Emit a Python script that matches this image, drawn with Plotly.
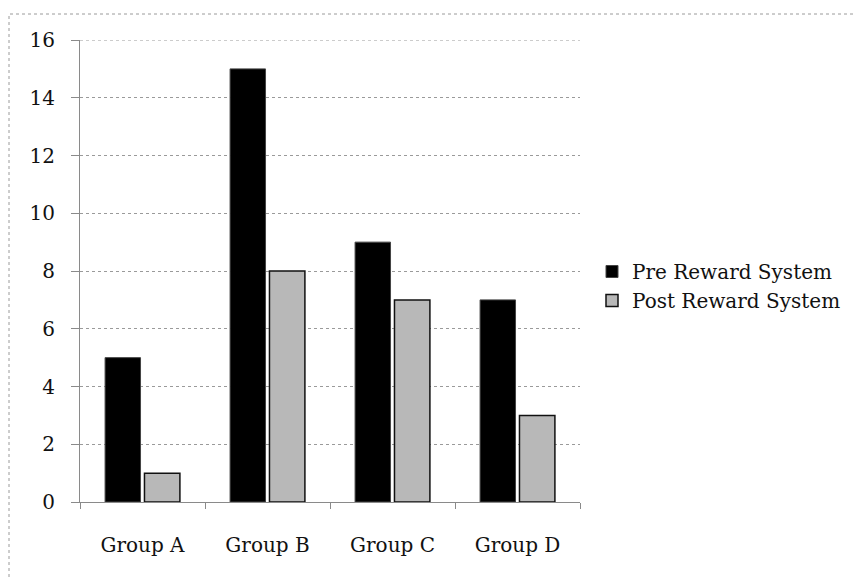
import plotly.graph_objects as go

categories = ["Group A", "Group B", "Group C", "Group D"]
pre_values = [5, 15, 9, 7]
post_values = [1, 8, 7, 3]
series_names = ["Pre Reward System", "Post Reward System"]
y_ticks = [0, 2, 4, 6, 8, 10, 12, 14, 16]

FONT = "DejaVu Serif"
# page has an 8px body margin: figure occupies window pixels 8..864 / 8..577
W, H = 856, 569
L, R, T, B = 72, 284, 32, 75
pw, ph = W - L - R, H - T - B


def px2x(p):  # window pixel -> paper x
    return (p - 8 - L) / pw


def py2y(p):  # window pixel -> paper y
    return (H - B - (p - 8)) / ph


fig = go.Figure()
fig.add_trace(go.Bar(name=series_names[0], x=categories, y=pre_values,
                     marker=dict(color="#000000", line=dict(color="#444444", width=1))))
fig.add_trace(go.Bar(name=series_names[1], x=categories, y=post_values,
                     marker=dict(color="#b8b8b8", line=dict(color="#111111", width=1.5))))

# outer chart-area border
fig.add_shape(type="rect", xref="paper", yref="paper",
              x0=px2x(9), x1=px2x(900), y0=py2y(600), y1=py2y(14),
              line=dict(color="#9a9a9a", width=1, dash="dot"), layer="below")
# top gridline (at the max of the axis)
fig.add_shape(type="line", xref="paper", yref="y", x0=0, x1=1,
              y0=y_ticks[-1], y1=y_ticks[-1],
              line=dict(color="#9a9a9a", width=1, dash="dot"), layer="below")

fig.update_layout(
    width=W, height=H,
    margin=dict(l=L, r=R, t=T, b=B, autoexpand=False),
    paper_bgcolor="white", plot_bgcolor="white",
    barmode="group", bargap=0.37, bargroupgap=0.1,
    font=dict(family=FONT, size=20, color="#111111"),
    showlegend=True,
    legend=dict(x=px2x(592), y=py2y(252), xanchor="left", yanchor="top",
                font=dict(family=FONT, size=20, color="#111111"),
                itemwidth=30, bgcolor="rgba(0,0,0,0)"),
    xaxis=dict(showline=True, linecolor="#8a8a8a", linewidth=1,
               ticks="outside", ticklen=6, tickcolor="#8a8a8a",
               tickson="boundaries", showgrid=False, ticklabelstandoff=25,
               tickfont=dict(family=FONT, size=20, color="#111111")),
    yaxis=dict(range=[0, 16], tickvals=y_ticks, showline=True,
               linecolor="#8a8a8a", linewidth=1,
               ticks="outside", ticklen=8, tickcolor="#8a8a8a",
               showgrid=True, gridcolor="#9a9a9a", griddash="dot", gridwidth=1,
               zeroline=False, ticklabelstandoff=12,
               tickfont=dict(family=FONT, size=20, color="#111111")),
)

fig.write_html("out.html")
